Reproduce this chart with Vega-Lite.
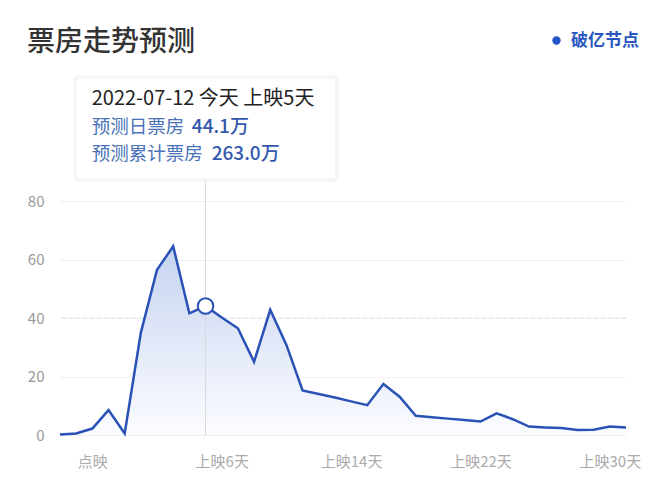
{
  "$schema": "https://vega.github.io/schema/vega-lite/v6.json",
  "width": 566,
  "height": 234,
  "autosize": {"type": "none"},
  "padding": {"left": 60, "top": 201, "right": 34, "bottom": 63},
  "background": "white",
  "config": {"font": "Noto Sans CJK SC", "view": {"stroke": null}},
  "title": {
    "text": "票房走势预测",
    "anchor": "start",
    "frame": "group",
    "dx": -33,
    "offset": -25,
    "fontSize": 28,
    "fontWeight": 500,
    "color": "#333333",
    "font": "Noto Sans CJK SC"
  },
  "datasets": {
    "boxoffice": [
      {"day": -4, "value": 0.2},
      {"day": -3, "value": 0.5},
      {"day": -2, "value": 2.2},
      {"day": -1, "value": 8.5},
      {"day": 0, "value": 0.5},
      {"day": 1, "value": 35},
      {"day": 2, "value": 56.5},
      {"day": 3, "value": 64.5},
      {"day": 4, "value": 41.6},
      {"day": 5, "value": 44.1},
      {"day": 6, "value": 40.2},
      {"day": 7, "value": 36.5},
      {"day": 8, "value": 25},
      {"day": 9, "value": 42.8},
      {"day": 10, "value": 30.8},
      {"day": 11, "value": 15.2},
      {"day": 12, "value": 14},
      {"day": 13, "value": 12.8},
      {"day": 14, "value": 11.5},
      {"day": 15, "value": 10.2},
      {"day": 16, "value": 17.4},
      {"day": 17, "value": 13.1},
      {"day": 18, "value": 6.6},
      {"day": 19, "value": 6.1},
      {"day": 20, "value": 5.6},
      {"day": 21, "value": 5.1},
      {"day": 22, "value": 4.6},
      {"day": 23, "value": 7.4},
      {"day": 24, "value": 5.4},
      {"day": 25, "value": 2.9},
      {"day": 26, "value": 2.6},
      {"day": 27, "value": 2.4},
      {"day": 28, "value": 1.7},
      {"day": 29, "value": 1.8},
      {"day": 30, "value": 2.9},
      {"day": 31, "value": 2.6}
    ],
    "today": [{"day": 5, "value": 44.1, "floor": 0, "cardBottom": 87.2}],
    "guides": [{"level": 40}],
    "card": [{"x1": -3.07, "x2": 13.13, "y1": 87.2, "y2": 122.4}],
    "cardText": [
      {"tx": -2.04, "ty": 114.9, "text": "2022-07-12 今天 上映5天", "role": "head"},
      {"tx": -2.04, "ty": 105.2, "text": "预测日票房", "role": "label"},
      {"tx": 4.15, "ty": 105.2, "text": "44.1万", "role": "value"},
      {"tx": -2.04, "ty": 95.9, "text": "预测累计票房", "role": "label"},
      {"tx": 5.38, "ty": 95.9, "text": "263.0万", "role": "value"}
    ],
    "nodes": [{"day": 40, "value": 100, "kind": "破亿节点"}]
  },
  "layer": [
    {
      "data": {"name": "boxoffice"},
      "mark": {
        "type": "area",
        "color": {
          "gradient": "linear",
          "x1": 1, "y1": 1, "x2": 1, "y2": 0,
          "stops": [
            {"offset": 0, "color": "#fbfcff"},
            {"offset": 1, "color": "#c6d4f1"}
          ]
        }
      },
      "encoding": {
        "x": {
          "field": "day",
          "type": "quantitative",
          "scale": {"domain": [-4, 31], "nice": false, "zero": false},
          "axis": {
            "title": null,
            "values": [-2, 6, 14, 22, 30],
            "labelExpr": "datum.value == -2 ? '点映' : '上映' + datum.value + '天'",
            "domain": false,
            "ticks": false,
            "grid": false,
            "labelPadding": 19,
            "labelFontSize": 15,
            "labelColor": "#aaaaaa",
            "labelFont": "Noto Sans CJK SC"
          }
        },
        "y": {
          "field": "value",
          "type": "quantitative",
          "scale": {"domain": [0, 80], "nice": false},
          "axis": {
            "title": null,
            "values": [0, 20, 40, 60, 80],
            "domain": false,
            "ticks": false,
            "grid": true,
            "gridColor": "#f0f0f0",
            "labelPadding": 16,
            "labelFontSize": 15,
            "labelColor": "#999999",
            "labelFont": "Noto Sans CJK SC"
          }
        }
      }
    },
    {
      "data": {"name": "guides"},
      "mark": {"type": "rule", "color": "#dddddd", "strokeWidth": 1, "strokeDash": [4, 3]},
      "encoding": {
        "y": {"field": "level", "type": "quantitative"}
      }
    },
    {
      "data": {"name": "today"},
      "mark": {"type": "rule", "color": "#d9d9d9", "strokeWidth": 1},
      "encoding": {
        "x": {"field": "day", "type": "quantitative"},
        "y": {"field": "floor", "type": "quantitative"},
        "y2": {"field": "cardBottom"}
      }
    },
    {
      "data": {"name": "boxoffice"},
      "mark": {"type": "line", "color": "#2a52b6", "strokeWidth": 2.5},
      "encoding": {
        "x": {"field": "day", "type": "quantitative"},
        "y": {"field": "value", "type": "quantitative"}
      }
    },
    {
      "data": {"name": "today"},
      "mark": {"type": "point", "filled": true, "fill": "white", "stroke": "#2a52b6", "strokeWidth": 2, "size": 240, "opacity": 1, "shape": "circle"},
      "encoding": {
        "x": {"field": "day", "type": "quantitative"},
        "y": {"field": "value", "type": "quantitative"}
      }
    },
    {
      "data": {"name": "card"},
      "mark": {"type": "rect", "fill": "white", "stroke": "#eef0f4", "strokeWidth": 4, "strokeOpacity": 0.6, "cornerRadius": 4},
      "encoding": {
        "x": {"field": "x1", "type": "quantitative"},
        "x2": {"field": "x2"},
        "y": {"field": "y1", "type": "quantitative"},
        "y2": {"field": "y2"}
      }
    },
    {
      "data": {"name": "cardText"},
      "transform": [{"filter": "datum.role === 'head'"}],
      "mark": {"type": "text", "align": "left", "baseline": "middle", "fontSize": 20, "color": "#222222", "font": "Noto Sans CJK SC"},
      "encoding": {
        "x": {"field": "tx", "type": "quantitative"},
        "y": {"field": "ty", "type": "quantitative"},
        "text": {"field": "text", "type": "nominal"}
      }
    },
    {
      "data": {"name": "cardText"},
      "transform": [{"filter": "datum.role === 'label'"}],
      "mark": {"type": "text", "align": "left", "baseline": "middle", "fontSize": 18.5, "color": "#4a72b8", "font": "Noto Sans CJK SC"},
      "encoding": {
        "x": {"field": "tx", "type": "quantitative"},
        "y": {"field": "ty", "type": "quantitative"},
        "text": {"field": "text", "type": "nominal"}
      }
    },
    {
      "data": {"name": "cardText"},
      "transform": [{"filter": "datum.role === 'value'"}],
      "mark": {"type": "text", "align": "left", "baseline": "middle", "fontSize": 19, "fontWeight": 500, "color": "#3358ad", "font": "Noto Sans CJK SC"},
      "encoding": {
        "x": {"field": "tx", "type": "quantitative"},
        "y": {"field": "ty", "type": "quantitative"},
        "text": {"field": "text", "type": "nominal"}
      }
    },
    {
      "data": {"name": "nodes"},
      "transform": [{"filter": "datum.day <= 31"}],
      "mark": {"type": "point", "filled": true, "shape": "circle"},
      "encoding": {
        "x": {"field": "day", "type": "quantitative"},
        "y": {"field": "value", "type": "quantitative"},
        "color": {
          "field": "kind",
          "type": "nominal",
          "scale": {"domain": ["破亿节点"], "range": ["#2456c8"]},
          "legend": {
            "title": null,
            "orient": "none",
            "legendX": 488,
            "legendY": -169,
            "symbolType": "circle",
            "symbolSize": 70,
            "symbolOpacity": 1,
            "symbolStrokeWidth": 0,
            "labelFontSize": 17,
            "labelFontWeight": "bold",
            "labelColor": "#2a57c0",
            "labelFont": "Noto Sans CJK SC",
            "labelOffset": 6
          }
        }
      }
    }
  ]
}
